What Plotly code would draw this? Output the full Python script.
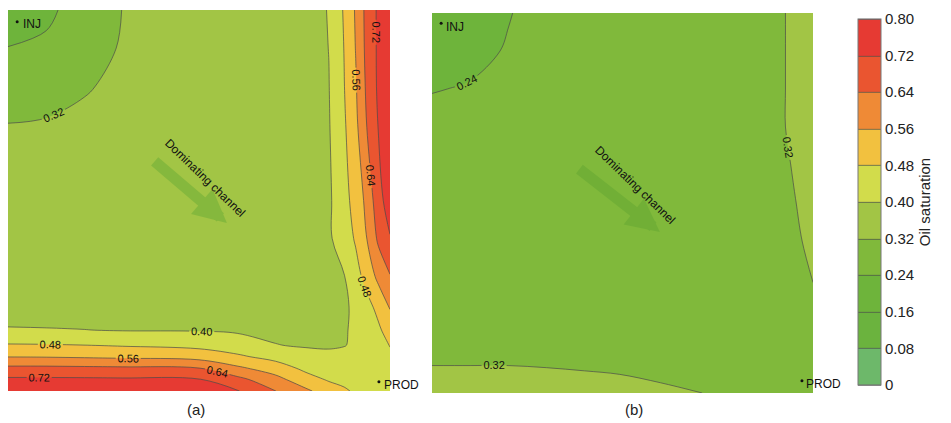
import plotly.graph_objects as go

# ---------------- data ----------------
band_colors = ["#6db86a", "#6bb33e", "#6eb43b", "#80b93b", "#a2c545",
               "#d2dc4b", "#f2c13f", "#ef8a36", "#ea5530", "#e63a33"]
tick_values = [0, 0.08, 0.16, 0.24, 0.32, 0.40, 0.48, 0.56, 0.64, 0.72, 0.80]
tick_labels = ["0", "0.08", "0.16", "0.24", "0.32", "0.40", "0.48", "0.56", "0.64", "0.72", "0.80"]

# panel (a): grid positions (fraction of width from left / of height from top)
grid_a = [0, 0.1, 0.2, 0.3, 0.5, 0.6, 0.7, 0.78, 0.84, 0.88, 0.91, 0.94, 0.97, 1.0]
sat_a = [
    [0.190, 0.222, 0.280, 0.321, 0.345, 0.352, 0.358, 0.365, 0.404, 0.488, 0.568, 0.668, 0.734, 0.780],
    [0.242, 0.255, 0.295, 0.325, 0.346, 0.352, 0.358, 0.365, 0.401, 0.482, 0.562, 0.665, 0.734, 0.780],
    [0.285, 0.295, 0.316, 0.330, 0.348, 0.354, 0.360, 0.365, 0.398, 0.478, 0.552, 0.657, 0.734, 0.780],
    [0.321, 0.325, 0.330, 0.337, 0.350, 0.356, 0.361, 0.365, 0.395, 0.470, 0.541, 0.645, 0.725, 0.778],
    [0.345, 0.346, 0.348, 0.350, 0.358, 0.362, 0.365, 0.368, 0.388, 0.453, 0.510, 0.582, 0.692, 0.760],
    [0.352, 0.353, 0.355, 0.357, 0.362, 0.365, 0.368, 0.370, 0.390, 0.436, 0.489, 0.562, 0.656, 0.715],
    [0.365, 0.365, 0.366, 0.366, 0.368, 0.370, 0.372, 0.374, 0.385, 0.397, 0.449, 0.510, 0.581, 0.635],
    [0.362, 0.362, 0.363, 0.364, 0.368, 0.372, 0.374, 0.376, 0.386, 0.397, 0.404, 0.455, 0.502, 0.565],
    [0.406, 0.404, 0.401, 0.396, 0.395, 0.390, 0.386, 0.386, 0.388, 0.395, 0.410, 0.439, 0.468, 0.515],
    [0.487, 0.485, 0.481, 0.474, 0.458, 0.436, 0.402, 0.394, 0.395, 0.398, 0.408, 0.432, 0.458, 0.482],
    [0.558, 0.556, 0.551, 0.545, 0.530, 0.493, 0.454, 0.423, 0.410, 0.415, 0.420, 0.435, 0.452, 0.470],
    [0.658, 0.658, 0.655, 0.652, 0.641, 0.575, 0.520, 0.461, 0.441, 0.438, 0.436, 0.435, 0.445, 0.455],
    [0.734, 0.734, 0.733, 0.731, 0.725, 0.664, 0.587, 0.512, 0.472, 0.461, 0.452, 0.445, 0.442, 0.445],
    [0.780, 0.780, 0.780, 0.780, 0.765, 0.725, 0.641, 0.575, 0.520, 0.490, 0.470, 0.455, 0.445, 0.440],
]

# panel (b)
grid_b = [0, 0.1, 0.2, 0.3, 0.4, 0.5, 0.6, 0.7, 0.8, 0.9, 0.95, 1.0]
sat_b = [
    [0.200, 0.222, 0.238, 0.255, 0.265, 0.272, 0.276, 0.280, 0.290, 0.310, 0.328, 0.340],
    [0.222, 0.229, 0.243, 0.257, 0.266, 0.272, 0.276, 0.280, 0.290, 0.310, 0.328, 0.340],
    [0.238, 0.243, 0.252, 0.261, 0.268, 0.273, 0.277, 0.281, 0.290, 0.310, 0.328, 0.340],
    [0.255, 0.257, 0.261, 0.265, 0.270, 0.275, 0.278, 0.282, 0.290, 0.310, 0.328, 0.340],
    [0.265, 0.266, 0.268, 0.270, 0.274, 0.277, 0.280, 0.283, 0.290, 0.305, 0.323, 0.338],
    [0.272, 0.272, 0.273, 0.275, 0.277, 0.279, 0.282, 0.285, 0.290, 0.302, 0.318, 0.335],
    [0.276, 0.276, 0.277, 0.278, 0.280, 0.282, 0.284, 0.286, 0.290, 0.300, 0.314, 0.328],
    [0.280, 0.280, 0.281, 0.282, 0.283, 0.285, 0.286, 0.288, 0.291, 0.297, 0.310, 0.321],
    [0.290, 0.290, 0.290, 0.290, 0.290, 0.290, 0.290, 0.290, 0.291, 0.293, 0.302, 0.310],
    [0.310, 0.310, 0.310, 0.308, 0.305, 0.303, 0.300, 0.297, 0.293, 0.290, 0.292, 0.295],
    [0.328, 0.328, 0.328, 0.326, 0.323, 0.3195, 0.314, 0.310, 0.302, 0.295, 0.293, 0.295],
    [0.340, 0.340, 0.340, 0.338, 0.336, 0.332, 0.327, 0.321, 0.310, 0.300, 0.297, 0.295],
]

well_inj = ["INJ"]
well_prod = ["PROD"]
arrow_label = "Dominating channel"
panel_labels = ["(a)", "(b)"]
colorbar_title = "Oil saturation"

# ---------------- figure ----------------
PAGE_W, PAGE_H, BODY = 951, 423, 8          # browser body has an 8px margin
W, H = PAGE_W - BODY, PAGE_H - BODY
FONT = "Liberation Sans, Arial"


def fx(px):
    return (px - BODY) / W


def fy(py):
    return 1 - (py - BODY) / H


colorscale = []
for k, c in enumerate(band_colors):
    colorscale.append([k / len(band_colors), c])
    colorscale.append([(k + 1) / len(band_colors), c])

contour_cfg = dict(start=0.0, end=0.8, size=0.08, coloring="fill", showlabels=True,
                   labelfont=dict(family=FONT, size=11, color="#111"),
                   labelformat=".2f")

fig = go.Figure()
fig.add_trace(go.Contour(
    x=grid_a, y=grid_a, z=sat_a, zmin=0, zmax=0.8, colorscale=colorscale,
    contours=contour_cfg, line=dict(color="#4a4a4a", width=0.7, smoothing=1.0),
    xaxis="x", yaxis="y", hoverinfo="skip",
    colorbar=dict(
        thickness=23, thicknessmode="pixels", len=366 / H, lenmode="fraction",
        x=fx(858), xanchor="left", y=fy(202), yanchor="middle",
        outlinewidth=1, outlinecolor="#777", tickvals=tick_values, ticktext=tick_labels,
        ticks="", ticklabelposition="outside", xpad=0, ypad=0,
        tickfont=dict(family=FONT, size=15, color="#222"),
        title=dict(text=colorbar_title, side="right",
                   font=dict(family=FONT, size=15, color="#222")),
    ),
))
fig.add_trace(go.Contour(
    x=grid_b, y=grid_b, z=sat_b, zmin=0, zmax=0.8, colorscale=colorscale,
    contours=contour_cfg, line=dict(color="#4a4a4a", width=0.7, smoothing=1.0),
    xaxis="x2", yaxis="y2", showscale=False, hoverinfo="skip",
))

# well markers: (axis, axis, inj dot u, v, inj text u, v, prod dot u, v, prod text u, v)
wells = [("x", "y", 0.024, 0.031, 0.036, 0.037, 0.971, 0.976, 0.982, 0.984),
         ("x2", "y2", 0.024, 0.027, 0.034, 0.037, 0.971, 0.968, 0.98, 0.975)]
for xa, ya, ui, vi, uit, vit, up, vp, upt, vpt in wells:
    fig.add_trace(go.Scatter(x=[ui, up], y=[vi, vp], mode="markers",
                             marker=dict(size=3, color="#111"), xaxis=xa, yaxis=ya,
                             cliponaxis=False, showlegend=False, hoverinfo="skip"))
    fig.add_annotation(x=uit, y=vit, xref=xa, yref=ya, text=well_inj[0],
                       showarrow=False, xanchor="left", yanchor="middle", borderpad=0,
                       font=dict(family=FONT, size=12, color="#111"))
    fig.add_annotation(x=upt, y=vpt, xref=xa, yref=ya, text=well_prod[0],
                       showarrow=False, xanchor="left", yanchor="middle", borderpad=0,
                       font=dict(family=FONT, size=12, color="#111"))

# dominating channel arrows
arrows = [("x", "y", 0.38, 0.394, 0.573, 0.559, 0.516, 0.441, "rgba(110,175,55,0.55)"),
          ("x2", "y2", 0.383, 0.408, 0.598, 0.576, 0.533, 0.453, "rgba(95,165,50,0.45)")]
for xa, ya, tx, ty, hx, hy, cx, cy, col in arrows:
    fig.add_annotation(x=hx, y=hy, ax=tx, ay=ty, xref=xa, yref=ya, axref=xa, ayref=ya,
                       text="", showarrow=True, arrowhead=2, arrowsize=0.6,
                       arrowwidth=11, arrowcolor=col, standoff=0)
    fig.add_annotation(x=cx, y=cy, xref=xa, yref=ya, text=arrow_label, showarrow=False,
                       textangle=44, font=dict(family=FONT, size=12, color="#111"))

for lbl, px in zip(panel_labels, [196, 634]):
    fig.add_annotation(x=fx(px), y=fy(409), xref="paper", yref="paper", text=lbl,
                       xanchor="center", yanchor="middle",
                       showarrow=False, font=dict(family=FONT, size=15, color="#222"))

axis_common = dict(showgrid=False, zeroline=False, showticklabels=False, ticks="",
                   showline=False)
fig.update_layout(
    width=W, height=H, margin=dict(l=0, r=0, t=0, b=0, autoexpand=False),
    paper_bgcolor="white", plot_bgcolor="white", showlegend=False,
    xaxis=dict(domain=[fx(8), fx(390)], range=[0, 1], **axis_common),
    yaxis=dict(domain=[fy(391), fy(10)], range=[1, 0], **axis_common),
    xaxis2=dict(domain=[fx(432), fx(813)], range=[0, 1], **axis_common),
    yaxis2=dict(domain=[fy(393), fy(13)], range=[1, 0], **axis_common),
)

fig.write_html("out.html")
